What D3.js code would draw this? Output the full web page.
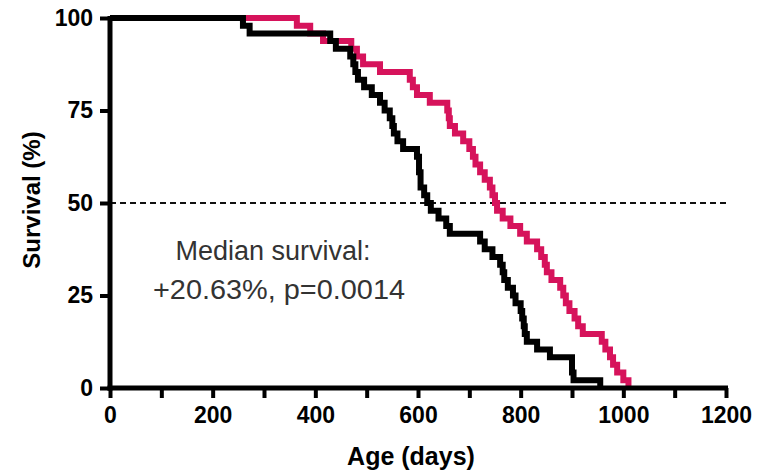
<!DOCTYPE html>
<html><head><meta charset="utf-8">
<script src="https://cdn.jsdelivr.net/npm/d3@7"></script>
<style>
html,body{margin:0;padding:0;background:#fff;}
svg{display:block;}
</style></head>
<body>
<svg id="chart" width="780" height="470"></svg>
<script>
// Kaplan-Meier steps: [age in days, survival %]
const controlDays = [0,259,272,429,440,468,474,478,483,495,510,526,535,545,550,553,560,571,598,602,605,612,618,625,640,655,662,721,730,745,760,765,768,775,785,790,800,803,806,808,812,832,857,900,903,955];
const controlSurv = [100,97.9,95.8,93.8,91.7,89.6,87.5,85.4,83.3,81.3,79.2,77.1,75,72.9,70.8,68.8,66.7,64.6,62.5,58.3,54.2,52.1,50,47.9,45.8,43.8,41.7,39.6,37.5,35.4,33.3,31.3,29.2,27.1,25,22.9,20.8,18.8,16.7,14.6,12.5,10.4,8.3,4.2,2.1,0];
const treatedDays = [0,364,390,415,470,481,493,526,584,590,598,623,657,660,662,672,688,700,707,712,721,730,740,745,750,754,765,780,799,812,832,840,847,851,860,877,883,888,895,905,912,921,958,965,974,980,988,1000,1010];
const treatedSurv = [100,97.9,95.8,93.8,91.7,89.6,87.5,85.4,83.3,81.3,79.2,77.1,75,72.9,70.8,68.8,66.7,64.6,62.5,60.4,58.3,56.3,54.2,52.1,50,47.9,45.8,43.8,41.7,39.6,37.5,35.4,33.3,31.3,29.2,27.1,25,22.9,20.8,18.8,16.7,14.6,12.5,10.4,8.3,6.3,4.2,2.1,0];
const xTicks = [0,100,200,300,400,500,600,700,800,900,1000,1100,1200];
const xTickLabels = ["0","","200","","400","","600","","800","","1000","","1200"];
const yTicks = [0,25,50,75,100];
const yTickLabels = ["0","25","50","75","100"];
const medianLine = 50;
const annotation = ["Median survival:", "+20.63%, p=0.0014"];

const svg = d3.select("#chart");
const x = d3.scaleLinear().domain([0,1200]).range([110,726]);
const y = d3.scaleLinear().domain([0,100]).range([388,18]);
const boldFont = "'Liberation Sans', Arial, Helvetica, sans-serif";

// dashed median line
svg.append("line")
  .attr("x1", x(0)).attr("x2", x(1200))
  .attr("y1", y(medianLine)).attr("y2", y(medianLine))
  .attr("stroke", "#111").attr("stroke-width", 2)
  .attr("stroke-dasharray", "6,4");

const line = d3.line().x(d => x(d[0])).y(d => y(d[1])).curve(d3.curveStepAfter);
const control = controlDays.map((d,i) => [d, controlSurv[i]]);
const treated = treatedDays.map((d,i) => [d, treatedSurv[i]]);

svg.append("path").datum(treated)
  .attr("d", line).attr("fill","none")
  .attr("stroke","#d6135b").attr("stroke-width",6).attr("stroke-linejoin","miter");
svg.append("path").datum(control)
  .attr("d", line).attr("fill","none")
  .attr("stroke","#000").attr("stroke-width",6).attr("stroke-linejoin","miter");

// axes
const xAxis = d3.axisBottom(x).tickValues(xTicks)
  .tickFormat((d,i) => xTickLabels[i]).tickSize(10).tickSizeOuter(0).tickPadding(9);
const gx = svg.append("g").attr("transform", `translate(0,${y(0)})`).call(xAxis);
gx.select(".domain").attr("stroke","#000").attr("stroke-width",5)
  .attr("d", `M${x(0)-2.5},0H${x(1200)+2}`);
gx.selectAll(".tick line").attr("stroke","#000").attr("stroke-width",4);
gx.selectAll(".tick text").attr("fill","#000")
  .style("font-family", boldFont).style("font-weight","bold").style("font-size","23px")
  .attr("dy", "0.71em");

const yAxis = d3.axisLeft(y).tickValues(yTicks)
  .tickFormat((d,i) => yTickLabels[i]).tickSize(10).tickSizeOuter(0).tickPadding(7);
const gy = svg.append("g").attr("transform", `translate(${x(0)},0)`).call(yAxis);
gy.select(".domain").attr("stroke","#000").attr("stroke-width",5)
  .attr("d", `M0,${y(100)-2}V${y(0)+2.5}`);
gy.selectAll(".tick line").attr("stroke","#000").attr("stroke-width",4);
gy.selectAll(".tick text").attr("fill","#000")
  .style("font-family", boldFont).style("font-weight","bold").style("font-size","23px");

// axis titles
svg.append("text").attr("x", 411).attr("y", 465).attr("text-anchor","middle")
  .style("font-family", boldFont).style("font-weight","bold").style("font-size","25px")
  .text("Age (days)");
svg.append("text").attr("transform","translate(40,200) rotate(-90)").attr("text-anchor","middle")
  .style("font-family", boldFont).style("font-weight","bold").style("font-size","24px")
  .text("Survival (%)");

// annotation
svg.append("text").attr("x", 273).attr("y", 260).attr("text-anchor","middle")
  .style("font-family", boldFont).style("font-size","27px").attr("fill","#333")
  .text(annotation[0]);
svg.append("text").attr("x", 279).attr("y", 299).attr("text-anchor","middle")
  .attr("textLength", 252).attr("lengthAdjust","spacingAndGlyphs")
  .style("font-family", boldFont).style("font-size","27px").attr("fill","#333")
  .text(annotation[1]);
</script>
</body></html>
